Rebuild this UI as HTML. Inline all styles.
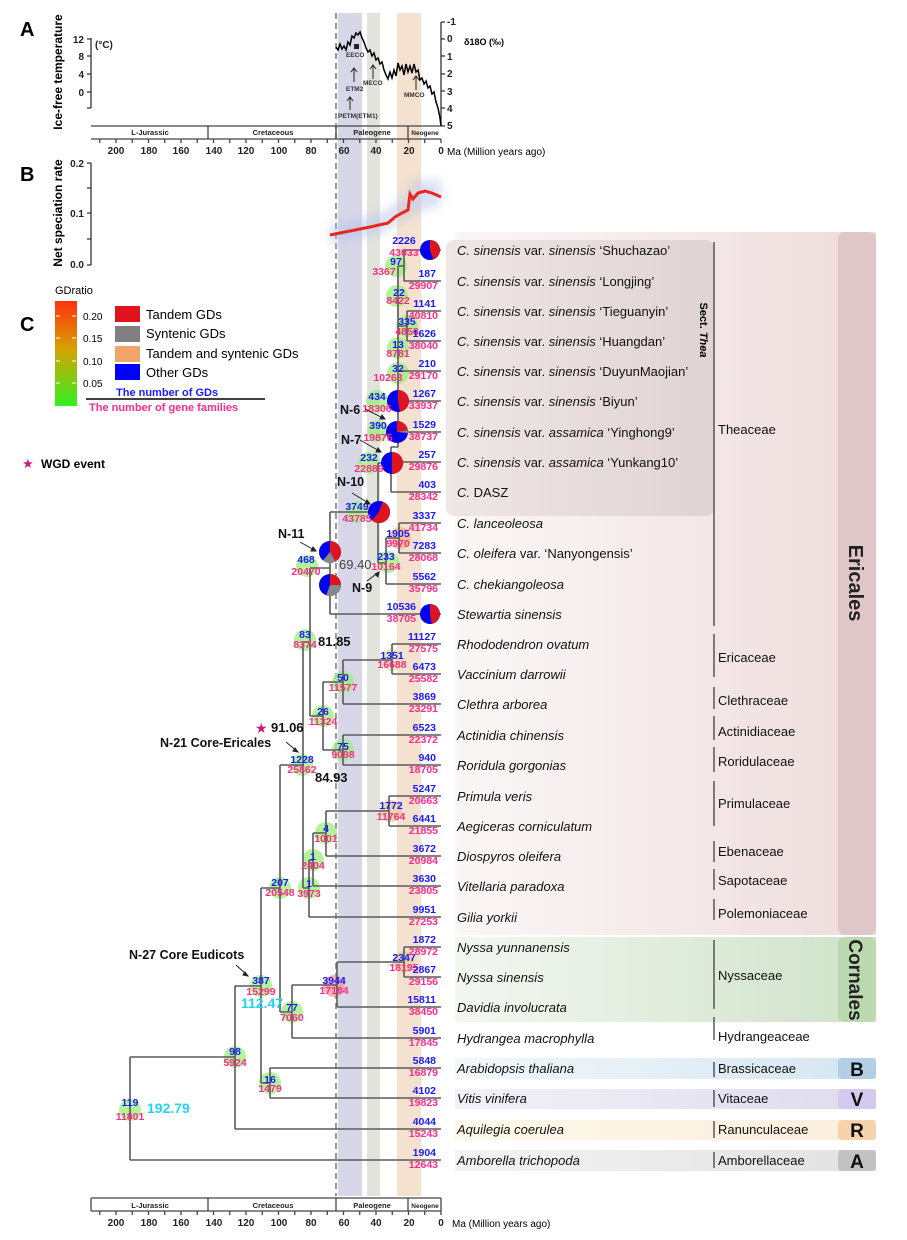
<!DOCTYPE html>
<html><head><meta charset="utf-8"><style>
html,body{margin:0;padding:0;background:#fff}
svg{display:block}
text{font-family:"Liberation Sans",Arial,sans-serif}
.b{fill:#1a1aff;font-weight:bold;font-size:10.5px}
.p{fill:#ff2b8a;font-weight:bold;font-size:10.5px}
.tx{font-size:13px;fill:#111}
.fm{font-size:13px;fill:#111}
.ax{font-size:10px;font-weight:bold;fill:#222}
.br{stroke:#5a5a5a;stroke-width:1.6;fill:none}
.nc{fill:#9bef7c;opacity:.75}
.lab{font-weight:bold;font-size:12.5px;fill:#111}
</style></head><body>
<svg width="907" height="1240" viewBox="0 0 907 1240" xmlns="http://www.w3.org/2000/svg">
<defs>
<linearGradient id="gE" x1="0" x2="1"><stop offset="0" stop-color="#fbf7f7"/><stop offset="1" stop-color="#efdcdc"/></linearGradient>
<linearGradient id="gT" x1="0" x2="1"><stop offset="0" stop-color="#efe6e6"/><stop offset="1" stop-color="#e0d3d3"/></linearGradient>
<linearGradient id="gC" x1="0" x2="1"><stop offset="0" stop-color="#f3f7f1"/><stop offset="1" stop-color="#cfe2c9"/></linearGradient>
<linearGradient id="gB" x1="0" x2="1"><stop offset="0" stop-color="#f2f7fb"/><stop offset="1" stop-color="#d5e6f2"/></linearGradient>
<linearGradient id="gV" x1="0" x2="1"><stop offset="0" stop-color="#f2f1f8"/><stop offset="1" stop-color="#dedbee"/></linearGradient>
<linearGradient id="gR" x1="0" x2="1"><stop offset="0" stop-color="#fdf9ea"/><stop offset="1" stop-color="#fbeedd"/></linearGradient>
<linearGradient id="gA" x1="0" x2="1"><stop offset="0" stop-color="#f3f3f3"/><stop offset="1" stop-color="#e2e2e2"/></linearGradient>
<linearGradient id="gBar" x1="0" y1="0" x2="0" y2="1"><stop offset="0" stop-color="#ff3010"/><stop offset=".45" stop-color="#d8a000"/><stop offset="1" stop-color="#30f020"/></linearGradient>
<filter id="bl"><feGaussianBlur stdDeviation="5"/></filter>
</defs>

<rect x="455" y="232" width="421" height="703" fill="url(#gE)"/>
<rect x="838" y="232" width="38" height="703" rx="7" fill="#dfc6c9"/>
<rect x="446" y="240" width="268" height="276" rx="8" fill="url(#gT)"/>
<rect x="455" y="937" width="421" height="85" fill="url(#gC)"/>
<rect x="838" y="937" width="38" height="85" rx="7" fill="#bcd8ae"/>
<rect x="455" y="1058" width="421" height="21" fill="url(#gB)"/>
<rect x="838" y="1058" width="38" height="21" rx="4" fill="#b3cfe6"/>
<rect x="455" y="1089" width="421" height="20" fill="url(#gV)"/>
<rect x="838" y="1089" width="38" height="20" rx="4" fill="#d4caf0"/>
<rect x="455" y="1120" width="421" height="20" fill="url(#gR)"/>
<rect x="838" y="1120" width="38" height="20" rx="4" fill="#f7d3ab"/>
<rect x="455" y="1150" width="421" height="21" fill="url(#gA)"/>
<rect x="838" y="1150" width="38" height="21" rx="4" fill="#c2c2c2"/>

<rect x="338" y="13" width="24" height="1183" fill="#c9c9e0" opacity=".75"/>
<rect x="367" y="13" width="13" height="1183" fill="#dcdcd4" opacity=".8"/>
<rect x="397" y="13" width="24" height="1183" fill="#f1d9c4" opacity=".8"/>
<line x1="336" y1="13" x2="336" y2="1196" stroke="#777" stroke-width="1.5" stroke-dasharray="6,4"/>

<text x="20" y="36" font-size="20" font-weight="bold">A</text>
<text transform="translate(62,72) rotate(-90)" text-anchor="middle" font-size="12" font-weight="bold">Ice-free temperature</text>
<path d="M91,38V108M87,39H91M87,56H91M87,74H91M87,92H91M87,108H91" stroke="#333" stroke-width="1.3" fill="none"/>
<text x="84" y="43" class="ax" text-anchor="end" font-size="11">12</text>
<text x="84" y="60" class="ax" text-anchor="end" font-size="11">8</text>
<text x="84" y="78" class="ax" text-anchor="end" font-size="11">4</text>
<text x="84" y="96" class="ax" text-anchor="end" font-size="11">0</text>
<text x="95" y="48" class="ax" font-size="11">(°C)</text>
<path d="M441,22V126M441,22h4M441,39h4M441,56h4M441,74h4M441,91h4M441,108h4M441,126h4" stroke="#333" stroke-width="1.3" fill="none"/>
<text x="447" y="25" class="ax">-1</text><text x="447" y="42" class="ax">0</text><text x="447" y="60" class="ax">1</text><text x="447" y="77" class="ax">2</text><text x="447" y="95" class="ax">3</text><text x="447" y="112" class="ax">4</text><text x="447" y="129" class="ax">5</text>
<text x="464" y="45" font-size="9" font-weight="bold">δ18O (‰)</text>
<polyline fill="none" stroke="#000" stroke-width="1.5" points="336,47 338,50 340,44 342,49 344,46 346,50 348,42 350,45 352,36 354,38 356,33 358,35 360,32 362,38 364,42 366,48 368,52 370,50 372,56 374,53 376,60 378,58 380,64 382,62 384,70 386,75 388,79 390,72 392,78 394,70 396,76 398,63 400,70 402,66 404,75 406,64 408,72 410,66 412,73 414,64 416,72 418,70 420,80 422,78 424,84 426,81 428,88 430,86 432,94 434,92 436,102 438,108 440,118 441,126"/>
<rect x="354" y="44" width="5" height="5" fill="#222"/>
<g font-size="6.5" font-weight="bold" fill="#333">
<text x="346" y="57">EECO</text><text x="363" y="85">MECO</text><text x="346" y="91">ETM2</text><text x="338" y="118">PETM(ETM1)</text><text x="404" y="97">MMCO</text></g>
<path d="M354,82V69M351,72l3-4l3,4M373,79V66M370,69l3-4l3,4M350,110V98M347,101l3-4l3,4M416,90V77M413,80l3-4l3,4" stroke="#222" stroke-width="1" fill="none"/>
<g stroke="#444" stroke-width="1.3" fill="none">
<path d="M91,126H441M91,139H441M208,126V139M336,126V139M408,126V139"/>
<path d="M441,139v4M424.75,139v4M408.5,139v4M392.25,139v4M376,139v4M359.75,139v4M343.5,139v4M327.25,139v4M311,139v4M294.75,139v4M278.5,139v4M262.25,139v4M246,139v4M229.75,139v4M213.5,139v4M197.25,139v4M181,139v4M164.75,139v4M148.5,139v4M132.25,139v4M116,139v4M99.75,139v4"/>
</g>
<g font-size="7.5" font-weight="bold" text-anchor="middle" fill="#222"><text x="150" y="135">L-Jurassic</text><text x="273" y="135">Cretaceous</text><text x="372" y="135">Paleogene</text><text x="425" y="135" font-size="6.5">Neogene</text></g>
<g text-anchor="middle"><text x="116" y="154" class="ax">200</text><text x="149" y="154" class="ax">180</text><text x="181" y="154" class="ax">160</text><text x="214" y="154" class="ax">140</text><text x="246" y="154" class="ax">120</text><text x="279" y="154" class="ax">100</text><text x="311" y="154" class="ax">80</text><text x="344" y="154" class="ax">60</text><text x="376" y="154" class="ax">40</text><text x="409" y="154" class="ax">20</text><text x="441" y="154" class="ax">0</text></g>
<text x="447" y="155" font-size="10">Ma (Million years ago)</text>

<text x="20" y="181" font-size="20" font-weight="bold">B</text>
<text transform="translate(62,213) rotate(-90)" text-anchor="middle" font-size="12" font-weight="bold">Net speciation rate</text>
<path d="M91,163V265M87,163H91M87,188H91M87,213H91M87,239H91M87,265H91" stroke="#333" stroke-width="1.3" fill="none"/>
<text x="84" y="167" class="ax" text-anchor="end">0.2</text><text x="84" y="217" class="ax" text-anchor="end">0.1</text><text x="84" y="268" class="ax" text-anchor="end">0.0</text>
<path d="M330,225 L385,212 L405,195 L415,180 L441,180 L441,205 L410,215 L385,232 L330,245Z" fill="#b4c2ea" opacity=".5" filter="url(#bl)"/>
<polyline fill="none" stroke="#e8281e" stroke-width="3" points="330,235 350,231 370,227 388,223 395,217 402,213 408,210 410,194 413,199 418,193 425,191 432,193 441,197"/>

<text x="20" y="331" font-size="20" font-weight="bold">C</text>
<text x="55" y="294" font-size="11">GDratio</text>
<rect x="55" y="301" width="22" height="105" fill="url(#gBar)"/>
<path d="M56,316h4M72,316h4M56,338h4M72,338h4M56,361h4M72,361h4M56,383h4M72,383h4" stroke="#fff" stroke-width="1"/>
<g font-size="10"><text x="83" y="320">0.20</text><text x="83" y="342">0.15</text><text x="83" y="365">0.10</text><text x="83" y="387">0.05</text></g>
<rect x="115" y="306" width="25" height="16" fill="#e0141e"/><text x="146" y="319" font-size="13">Tandem GDs</text>
<rect x="115" y="326" width="25" height="16" fill="#808080"/><text x="146" y="338" font-size="13">Syntenic GDs</text>
<rect x="115" y="346" width="25" height="16" fill="#f2a56b"/><text x="146" y="358" font-size="13">Tandem and syntenic GDs</text>
<rect x="115" y="364" width="25" height="16" fill="#0000ff"/><text x="146" y="377" font-size="13">Other GDs</text>
<text x="116" y="396" font-size="11" font-weight="bold" fill="#1a1aff">The number of GDs</text>
<line x1="86" y1="399" x2="265" y2="399" stroke="#000" stroke-width="1.5"/>
<text x="89" y="411" font-size="11" font-weight="bold" fill="#ff2b8a">The number of gene families</text>
<text x="22" y="468" font-size="13" fill="#d4147a">★</text><text x="41" y="468" font-size="12" font-weight="bold">WGD event</text>

<g class="nc">
<circle cx="396" cy="266" r="11"/><circle cx="397" cy="296" r="11"/><circle cx="407" cy="326" r="11"/><circle cx="398" cy="348" r="11"/><circle cx="398" cy="373" r="11"/>
<circle cx="377" cy="401" r="11"/><circle cx="378" cy="431" r="11"/><circle cx="369" cy="463" r="11"/><circle cx="357" cy="512" r="11"/>
<circle cx="388" cy="562" r="11"/><circle cx="307" cy="566" r="11"/><circle cx="305" cy="640" r="11"/><circle cx="323" cy="716" r="11"/>
<circle cx="343" cy="682" r="11"/><circle cx="343" cy="750" r="11"/><circle cx="302" cy="765" r="11"/><circle cx="326" cy="833" r="11"/>
<circle cx="313" cy="860" r="11"/><circle cx="309" cy="888" r="11"/><circle cx="280" cy="888" r="11"/><circle cx="261" cy="986" r="11"/>
<circle cx="292" cy="1012" r="11"/><circle cx="235" cy="1057" r="11"/><circle cx="270" cy="1083" r="11"/><circle cx="130" cy="1110" r="11"/>
</g>
<g opacity=".7">
<circle cx="400" cy="538" r="11" fill="#f5b080"/><circle cx="392" cy="660" r="11" fill="#d8e09a"/><circle cx="391" cy="811" r="11" fill="#e6c48a"/>
<circle cx="404" cy="962" r="11" fill="#e2cf90"/><circle cx="334" cy="986" r="11" fill="#f29494"/>
</g>

<path class="br" d="
M404,250V281M404,250H441M404,281H441M398,266H404M398,266V447
M407,311V341M407,311H441M407,341H441M398,326H407M398,371H441M398,401H441M398,432H441
M391,447V492M391,447H398M391,462H441M391,492H441
M378,463V563M378,463H391M378,563H386M386,538V584M386,538H399M386,584H441M399,523V553M399,523H441M399,553H441
M330,512H378M330,512V614M330,614H441M310,568H330
M310,568V716M303,642H310M310,716H323M323,682V750M323,682H343M323,750H343
M343,660V704M343,660H392M392,644V674M392,644H441M392,674H441M343,704H441
M343,735V765M343,735H441M343,765H441
M303,642V888M280,765H303
M303,888H309M309,860V917M309,917H441M309,860H313M313,833V886M313,886H441M313,833H326M326,811V856M326,856H441M326,811H389M389,796V826M389,796H441M389,826H441
M280,765V1012M261,888H280M280,1012H292M292,985V1038M292,1038H441M292,985H337M337,962V1007M337,1007H441M337,962H404M404,947V977M404,947H441M404,977H441
M261,888V1083M235,986H261M261,1083H270M270,1068V1098M270,1068H441M270,1098H441
M235,986V1129M235,1129H441M130,1057H235M130,1057V1160M130,1160H441"/>

<g>
<circle cx="430" cy="250" r="10" fill="#0000ee"/><path d="M430,250L430,240A10 10 0 0 1 433.4,259.4Z" fill="#e0141e"/>
<circle cx="398" cy="401" r="11" fill="#0000ee"/><path d="M398,401L398,390A11 11 0 0 1 399.9,411.8Z" fill="#e0141e"/>
<circle cx="397" cy="432" r="11" fill="#0000ee"/><path d="M397,432L397,421A11 11 0 0 1 407.8,430.1Z" fill="#e0141e"/><path d="M397,432L407.8,430.1A11 11 0 0 1 408,433Z" fill="#888"/>
<circle cx="392" cy="463" r="11" fill="#0000ee"/><path d="M392,463L392,452A11 11 0 0 1 392,474Z" fill="#e0141e"/>
<circle cx="379" cy="512" r="11" fill="#0000ee"/><path d="M379,512L382.8,501.7A11 11 0 1 1 371.9,520.4Z" fill="#e0141e"/>
<circle cx="330" cy="552" r="11" fill="#0000ee"/><path d="M330,552L330,541A11 11 0 0 1 335.5,561.5Z" fill="#e0141e"/><path d="M330,552L335.5,561.5A11 11 0 0 1 322.9,560.4Z" fill="#888"/>
<circle cx="330" cy="585" r="11" fill="#0000ee"/><path d="M330,585L330,574A11 11 0 0 1 341,585Z" fill="#e0141e"/><path d="M330,585L341,585A11 11 0 0 1 326.2,595.3Z" fill="#888"/>
<circle cx="430" cy="614" r="10" fill="#0000ee"/><path d="M430,614L430,604A10 10 0 0 1 431.7,623.8Z" fill="#e0141e"/>
</g>

<g text-anchor="middle">
<text x="404" y="244" class="b">2226</text><text x="404" y="256" class="p">43033</text>
<text x="396" y="265" class="b">97</text><text x="384" y="275" class="p">3367</text>
<text x="399" y="296" class="b">22</text><text x="398" y="304" class="p">8422</text>
<text x="407" y="325" class="b">335</text><text x="407" y="335" class="p">4858</text>
<text x="398" y="348" class="b">13</text><text x="398" y="357" class="p">8781</text>
<text x="398" y="372" class="b">32</text><text x="388" y="381" class="p">10263</text>
<text x="377" y="400" class="b">434</text><text x="377" y="412" class="p">18306</text>
<text x="378" y="429" class="b">390</text><text x="378" y="441" class="p">19875</text>
<text x="369" y="461" class="b">232</text><text x="369" y="472" class="p">22889</text>
<text x="357" y="510" class="b">3749</text><text x="357" y="522" class="p">43785</text>
<text x="398" y="537" class="b">1905</text><text x="398" y="547" class="p">9970</text>
<text x="386" y="560" class="b">233</text><text x="386" y="570" class="p">10164</text>
<text x="306" y="563" class="b">468</text><text x="306" y="575" class="p">20470</text>
<text x="305" y="638" class="b">83</text><text x="305" y="648" class="p">8374</text>
<text x="323" y="715" class="b">26</text><text x="323" y="725" class="p">11324</text>
<text x="343" y="681" class="b">50</text><text x="343" y="691" class="p">11577</text>
<text x="392" y="659" class="b">1351</text><text x="392" y="668" class="p">16688</text>
<text x="343" y="750" class="b">75</text><text x="343" y="758" class="p">9098</text>
<text x="302" y="763" class="b">1228</text><text x="302" y="773" class="p">25862</text>
<text x="391" y="809" class="b">1772</text><text x="391" y="820" class="p">11764</text>
<text x="326" y="832" class="b">4</text><text x="326" y="842" class="p">1001</text>
<text x="313" y="860" class="b">1</text><text x="313" y="869" class="p">2404</text>
<text x="309" y="887" class="b">1</text><text x="309" y="897" class="p">3973</text>
<text x="280" y="886" class="b">207</text><text x="280" y="896" class="p">20548</text>
<text x="404" y="961" class="b">2347</text><text x="404" y="971" class="p">18195</text>
<text x="334" y="984" class="b">3944</text><text x="334" y="994" class="p">17184</text>
<text x="261" y="984" class="b">387</text><text x="261" y="995" class="p">15299</text>
<text x="292" y="1011" class="b">77</text><text x="292" y="1021" class="p">7060</text>
<text x="235" y="1055" class="b">98</text><text x="235" y="1066" class="p">5924</text>
<text x="270" y="1083" class="b">16</text><text x="270" y="1092" class="p">1479</text>
<text x="130" y="1106" class="b">119</text><text x="130" y="1120" class="p">11801</text>
</g>

<g text-anchor="end">
<text x="436" y="277" class="b">187</text><text x="438" y="289" class="p">29907</text>
<text x="436" y="307" class="b">1141</text><text x="438" y="319" class="p">40810</text>
<text x="436" y="337" class="b">1626</text><text x="438" y="349" class="p">38040</text>
<text x="436" y="367" class="b">210</text><text x="438" y="379" class="p">29170</text>
<text x="436" y="397" class="b">1267</text><text x="438" y="409" class="p">33937</text>
<text x="436" y="428" class="b">1529</text><text x="438" y="440" class="p">38737</text>
<text x="436" y="458" class="b">257</text><text x="438" y="470" class="p">29876</text>
<text x="436" y="488" class="b">403</text><text x="438" y="500" class="p">28342</text>
<text x="436" y="519" class="b">3337</text><text x="438" y="531" class="p">41734</text>
<text x="436" y="549" class="b">7283</text><text x="438" y="561" class="p">28068</text>
<text x="436" y="580" class="b">5562</text><text x="438" y="592" class="p">35796</text>
<text x="416" y="610" class="b">10536</text><text x="416" y="622" class="p">38705</text>
<text x="436" y="640" class="b">11127</text><text x="438" y="652" class="p">27575</text>
<text x="436" y="670" class="b">6473</text><text x="438" y="682" class="p">25582</text>
<text x="436" y="700" class="b">3869</text><text x="438" y="712" class="p">23291</text>
<text x="436" y="731" class="b">6523</text><text x="438" y="743" class="p">22372</text>
<text x="436" y="761" class="b">940</text><text x="438" y="773" class="p">18705</text>
<text x="436" y="792" class="b">5247</text><text x="438" y="804" class="p">20663</text>
<text x="436" y="822" class="b">6441</text><text x="438" y="834" class="p">21855</text>
<text x="436" y="852" class="b">3672</text><text x="438" y="864" class="p">20984</text>
<text x="436" y="882" class="b">3630</text><text x="438" y="894" class="p">23805</text>
<text x="436" y="913" class="b">9951</text><text x="438" y="925" class="p">27253</text>
<text x="436" y="943" class="b">1872</text><text x="438" y="955" class="p">28972</text>
<text x="436" y="973" class="b">2867</text><text x="438" y="985" class="p">29156</text>
<text x="436" y="1003" class="b">15811</text><text x="438" y="1015" class="p">38450</text>
<text x="436" y="1034" class="b">5901</text><text x="438" y="1046" class="p">17845</text>
<text x="436" y="1064" class="b">5848</text><text x="438" y="1076" class="p">16879</text>
<text x="436" y="1094" class="b">4102</text><text x="438" y="1106" class="p">19823</text>
<text x="436" y="1125" class="b">4044</text><text x="438" y="1137" class="p">15243</text>
<text x="436" y="1156" class="b">1904</text><text x="438" y="1168" class="p">12643</text>
</g>

<g class="tx">
<text x="457" y="255"><tspan font-style="italic">C. sinensis</tspan> var. <tspan font-style="italic">sinensis</tspan> ‘Shuchazao’</text>
<text x="457" y="286"><tspan font-style="italic">C. sinensis</tspan> var. <tspan font-style="italic">sinensis</tspan> ‘Longjing’</text>
<text x="457" y="316"><tspan font-style="italic">C. sinensis</tspan> var. <tspan font-style="italic">sinensis</tspan> ‘Tieguanyin’</text>
<text x="457" y="346"><tspan font-style="italic">C. sinensis</tspan> var. <tspan font-style="italic">sinensis</tspan> ‘Huangdan’</text>
<text x="457" y="376"><tspan font-style="italic">C. sinensis</tspan> var. <tspan font-style="italic">sinensis</tspan> ‘DuyunMaojian’</text>
<text x="457" y="406"><tspan font-style="italic">C. sinensis</tspan> var. <tspan font-style="italic">sinensis</tspan>  ‘Biyun’</text>
<text x="457" y="437"><tspan font-style="italic">C. sinensis</tspan> var. <tspan font-style="italic">assamica</tspan> ‘Yinghong9’</text>
<text x="457" y="467"><tspan font-style="italic">C. sinensis</tspan> var. <tspan font-style="italic">assamica</tspan> ‘Yunkang10’</text>
<text x="457" y="497"><tspan font-style="italic">C.</tspan> DASZ</text>
<text x="457" y="528" font-style="italic">C. lanceoleosa</text>
<text x="457" y="558"><tspan font-style="italic">C. oleifera</tspan> var. ‘Nanyongensis’</text>
<text x="457" y="589" font-style="italic">C. chekiangoleosa</text>
<text x="457" y="619" font-style="italic">Stewartia sinensis</text>
<text x="457" y="649" font-style="italic">Rhododendron ovatum</text>
<text x="457" y="679" font-style="italic">Vaccinium darrowii</text>
<text x="457" y="709" font-style="italic">Clethra arborea</text>
<text x="457" y="740" font-style="italic">Actinidia chinensis</text>
<text x="457" y="770" font-style="italic">Roridula gorgonias</text>
<text x="457" y="801" font-style="italic">Primula veris</text>
<text x="457" y="831" font-style="italic">Aegiceras corniculatum</text>
<text x="457" y="861" font-style="italic">Diospyros oleifera</text>
<text x="457" y="891" font-style="italic">Vitellaria paradoxa</text>
<text x="457" y="922" font-style="italic">Gilia yorkii</text>
<text x="457" y="952" font-style="italic">Nyssa yunnanensis</text>
<text x="457" y="982" font-style="italic">Nyssa sinensis</text>
<text x="457" y="1012" font-style="italic">Davidia involucrata</text>
<text x="457" y="1043" font-style="italic">Hydrangea macrophylla</text>
<text x="457" y="1073" font-style="italic">Arabidopsis thaliana</text>
<text x="457" y="1103" font-style="italic">Vitis vinifera</text>
<text x="457" y="1134" font-style="italic">Aquilegia coerulea</text>
<text x="457" y="1165" font-style="italic">Amborella trichopoda</text>
</g>

<path d="M714,242V626M714,634V677M714,687V709M714,716V740M714,747V772M714,781V826M714,841V862M714,869V890M714,899V920M714,940V1009M714,1017V1040M714,1062V1077M714,1090V1107M714,1121V1138M714,1152V1168" stroke="#333" stroke-width="1.2"/>
<g class="fm">
<text x="718" y="434">Theaceae</text><text x="718" y="662">Ericaceae</text><text x="718" y="705">Clethraceae</text><text x="718" y="736">Actinidiaceae</text><text x="718" y="766">Roridulaceae</text>
<text x="718" y="808">Primulaceae</text><text x="718" y="856">Ebenaceae</text><text x="718" y="885">Sapotaceae</text><text x="718" y="918">Polemoniaceae</text>
<text x="718" y="980">Nyssaceae</text><text x="718" y="1041">Hydrangeaceae</text><text x="718" y="1073">Brassicaceae</text><text x="718" y="1103">Vitaceae</text><text x="718" y="1134">Ranunculaceae</text><text x="718" y="1165">Amborellaceae</text>
</g>
<text transform="translate(700,330) rotate(90)" text-anchor="middle" font-size="11" font-weight="bold">Sect. <tspan font-style="italic">Thea</tspan></text>
<text transform="translate(849,583) rotate(90)" text-anchor="middle" font-size="20" font-weight="bold" fill="#222">Ericales</text>
<text transform="translate(849,980) rotate(90)" text-anchor="middle" font-size="19" font-weight="bold" fill="#222">Cornales</text>
<g font-size="19" font-weight="bold" text-anchor="middle" fill="#111"><text x="857" y="1076">B</text><text x="857" y="1106">V</text><text x="857" y="1137">R</text><text x="857" y="1168">A</text></g>

<g class="lab"><text x="340" y="414">N-6</text><text x="341" y="444">N-7</text><text x="337" y="486">N-10</text><text x="278" y="538">N-11</text><text x="352" y="592">N-9</text>
<text x="160" y="747">N-21 Core-Ericales</text><text x="129" y="959">N-27 Core Eudicots</text>
<text x="318" y="646" font-size="13">81.85</text><text x="315" y="782" font-size="13">84.93</text><text x="271" y="732" font-size="13">91.06</text></g>
<text x="255" y="733" font-size="14" fill="#d4147a">★</text>
<text x="339" y="569" font-size="13" fill="#444">69.40</text>
<text x="241" y="1008" font-size="14" font-weight="bold" fill="#22d4f2">112.47</text>
<text x="147" y="1113" font-size="14" font-weight="bold" fill="#22d4f2">192.79</text>
<g stroke="#222" stroke-width="1" fill="#222">
<path d="M365,409L385,419" fill="none"/><path d="M385,419l-5,0l2,-4z"/>
<path d="M360,440L381,452" fill="none"/><path d="M381,452l-5,0l2,-4z"/>
<path d="M352,493L370,504" fill="none"/><path d="M370,504l-5,0l2,-4z"/>
<path d="M300,542L316,551" fill="none"/><path d="M316,551l-5,0l2,-4z"/>
<path d="M367,581L379,572" fill="none"/><path d="M379,572l-1,5l-3,-3z"/>
<path d="M286,742L298,752" fill="none"/><path d="M298,752l-5,-1l2,-3z"/>
<path d="M236,965L248,976" fill="none"/><path d="M248,976l-5,-1l2,-3z"/>
</g>

<g stroke="#444" stroke-width="1.3" fill="none">
<path d="M91,1198H441M91,1211H441M91,1198V1211M208,1198V1211M336,1198V1211M408,1198V1211M441,1198V1211"/>
<path d="M441,1211v4M424.75,1211v4M408.5,1211v4M392.25,1211v4M376,1211v4M359.75,1211v4M343.5,1211v4M327.25,1211v4M311,1211v4M294.75,1211v4M278.5,1211v4M262.25,1211v4M246,1211v4M229.75,1211v4M213.5,1211v4M197.25,1211v4M181,1211v4M164.75,1211v4M148.5,1211v4M132.25,1211v4M116,1211v4M99.75,1211v4"/>
</g>
<g font-size="7.5" font-weight="bold" text-anchor="middle" fill="#222"><text x="150" y="1208">L-Jurassic</text><text x="273" y="1208">Cretaceous</text><text x="372" y="1208">Paleogene</text><text x="425" y="1208" font-size="6.5">Neogene</text></g>
<g text-anchor="middle"><text x="116" y="1226" class="ax">200</text><text x="149" y="1226" class="ax">180</text><text x="181" y="1226" class="ax">160</text><text x="214" y="1226" class="ax">140</text><text x="246" y="1226" class="ax">120</text><text x="279" y="1226" class="ax">100</text><text x="311" y="1226" class="ax">80</text><text x="344" y="1226" class="ax">60</text><text x="376" y="1226" class="ax">40</text><text x="409" y="1226" class="ax">20</text><text x="441" y="1226" class="ax">0</text></g>
<text x="452" y="1227" font-size="10">Ma (Million years ago)</text>
</svg>
</body></html>
